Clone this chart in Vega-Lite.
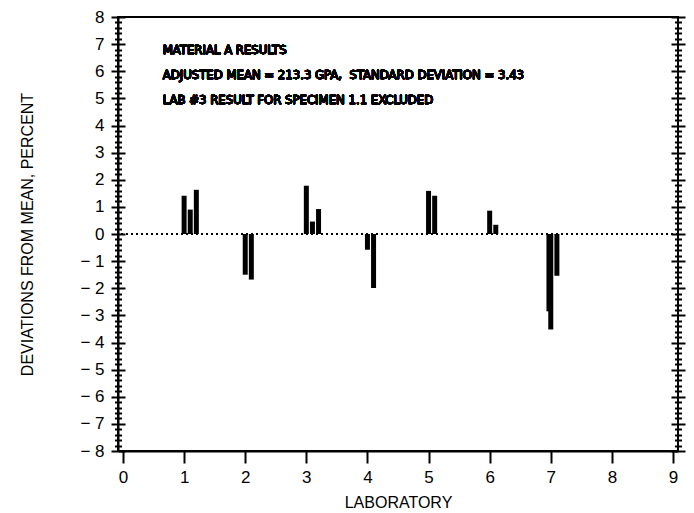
{
  "$schema": "https://vega.github.io/schema/vega-lite/v6.json",
  "width": 560,
  "height": 434,
  "autosize": {"type": "none"},
  "padding": {"left": 118, "top": 17, "right": 16, "bottom": 62},
  "background": "white",
  "config": {
    "view": {"stroke": "black", "strokeWidth": 2},
    "font": "Liberation Sans"
  },
  "data": {
    "values": [
      {"lab": 1, "pos": 1.0, "dev": 1.41},
      {"lab": 1, "pos": 1.1, "dev": 0.9},
      {"lab": 1, "pos": 1.2, "dev": 1.63},
      {"lab": 2, "pos": 2.0, "dev": -1.5},
      {"lab": 2, "pos": 2.1, "dev": -1.68},
      {"lab": 3, "pos": 3.0, "dev": 1.78},
      {"lab": 3, "pos": 3.1, "dev": 0.46},
      {"lab": 3, "pos": 3.2, "dev": 0.92},
      {"lab": 4, "pos": 4.0, "dev": -0.58},
      {"lab": 4, "pos": 4.1, "dev": -1.99},
      {"lab": 5, "pos": 5.0, "dev": 1.59},
      {"lab": 5, "pos": 5.1, "dev": 1.41},
      {"lab": 6, "pos": 6.0, "dev": 0.86},
      {"lab": 6, "pos": 6.1, "dev": 0.34},
      {"lab": 7, "pos": 6.97, "dev": -2.85},
      {"lab": 7, "pos": 7.0, "dev": -3.52},
      {"lab": 7, "pos": 7.1, "dev": -1.54}
    ]
  },
  "layer": [
    {
      "mark": {"type": "rule", "strokeDash": [2, 3], "strokeWidth": 1.5, "color": "black"},
      "encoding": {
        "y": {"datum": 0, "type": "quantitative", "scale": {"domain": [-8, 8], "nice": false, "zero": false},
          "axis": {
            "orient": "left",
            "tickCount": 80,
            "title": "DEVIATIONS FROM MEAN, PERCENT",
            "titleFontSize": 16,
            "titleFontWeight": "normal",
            "titleColor": "black",
            "titlePadding": 44,
            "labelExpr": "datum.value % 1 === 0 ? (datum.value < 0 ? '\u2212 ' + format(-datum.value, 'd') : format(datum.value, 'd')) : ''",
            "labelOverlap": false,
            "labelFlush": false,
            "labelBound": false,
            "labelFontSize": 17,
            "labelColor": "black",
            "labelPadding": 7,
            "domain": true,
            "domainColor": "black",
            "domainWidth": 2,
            "ticks": true,
            "tickColor": "black",
            "tickWidth": 2,
            "tickSize": {"condition": {"test": "datum.value % 1 === 0", "value": 7}, "value": 3.5},
            "grid": true,
            "gridColor": "black",
            "gridWidth": 2,
            "gridOpacity": 1,
            "gridDash": {"condition": {"test": "datum.value % 1 === 0", "value": [7, 546, 7]}, "value": [3.5, 553, 3.5]}
          }
        }
      }
    },
    {
      "mark": {"type": "bar", "color": "black", "width": 5},
      "encoding": {
        "x": {"field": "pos", "type": "quantitative", "scale": {"domain": [0, 9], "nice": false},
          "axis": {
            "values": [0, 1, 2, 3, 4, 5, 6, 7, 8, 9],
            "format": "d",
            "title": "LABORATORY",
            "titleFontSize": 16,
            "titleFontWeight": "normal",
            "titleColor": "black",
            "titlePadding": 9,
            "labelFontSize": 17,
            "labelColor": "black",
            "labelPadding": 6,
            "labelFlush": false,
            "labelOverlap": false,
            "domainColor": "black",
            "domainWidth": 2,
            "tickColor": "black",
            "tickWidth": 2,
            "tickSize": 12,
            "grid": false
          }
        },
        "y": {"field": "dev", "type": "quantitative",
          "axis": {
            "orient": "right",
            "tickCount": 80,
            "title": null,
            "labels": false,
            "domain": false,
            "grid": false,
            "tickColor": "black",
            "tickWidth": 2,
            "tickSize": {"condition": {"test": "datum.value % 1 === 0", "value": 7}, "value": 3.5}
          }
        }
      }
    },
    {
      "mark": {"type": "text", "text": "MATERIAL A RESULTS", "align": "left", "baseline": "middle", "font": "DejaVu Sans Condensed", "fontWeight": "normal", "fontSize": 13, "color": "black", "stroke": "black", "strokeWidth": 0.4},
      "encoding": {"x": {"datum": 0.65, "type": "quantitative"}, "y": {"datum": 6.8, "type": "quantitative", "axis": null}}
    },
    {
      "mark": {"type": "text", "text": "ADJUSTED MEAN = 213.3 GPA,\u00a0 STANDARD DEVIATION = 3.43", "align": "left", "baseline": "middle", "font": "DejaVu Sans Condensed", "fontWeight": "normal", "fontSize": 13, "color": "black", "stroke": "black", "strokeWidth": 0.4},
      "encoding": {"x": {"datum": 0.65, "type": "quantitative"}, "y": {"datum": 5.88, "type": "quantitative", "axis": null}}
    },
    {
      "mark": {"type": "text", "text": "LAB #3 RESULT FOR SPECIMEN 1.1 EXCLUDED", "align": "left", "baseline": "middle", "font": "DejaVu Sans Condensed", "fontWeight": "normal", "fontSize": 13, "color": "black", "stroke": "black", "strokeWidth": 0.4},
      "encoding": {"x": {"datum": 0.65, "type": "quantitative"}, "y": {"datum": 4.95, "type": "quantitative", "axis": null}}
    }
  ],
  "resolve": {"axis": {"y": "independent"}}
}
